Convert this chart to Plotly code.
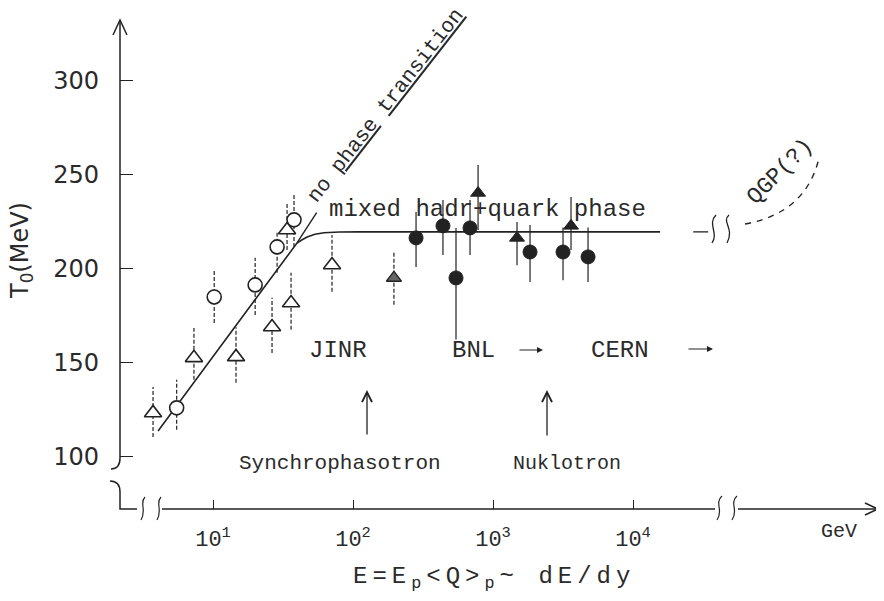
import plotly.graph_objects as go

# ---------------- data ----------------
# open circles
oc_E = [5.5, 10.2, 20.0, 28.7, 37.9]
oc_T = [126.1, 185.1, 191.5, 211.7, 226.1]
oc_hi = [141.0, 199.5, 205.9, 219.7, 240.4]
oc_lo = [114.4, 171.3, 175.5, 197.9, 211.7]
# open triangles
ot_E = [3.73, 7.31, 14.6, 26.4, 33.8, 36.1, 70.8]
ot_T = [123.4, 152.7, 153.2, 169.1, 220.7, 181.9, 202.1]
ot_hi = [137.2, 168.6, 169.0, 184.6, 235.0, 197.9, 218.0]
ot_lo = [110.6, 141.0, 139.4, 155.3, 210.0, 167.6, 187.8]
# half-filled triangle
ht_E = [196]
ht_T = [195.2]
ht_hi = [209.0]
ht_lo = [180.9]
# filled circles
fc_E = [282, 439, 544, 685, 1838, 3162, 4772]
fc_T = [216.5, 222.9, 195.2, 221.8, 209.0, 209.0, 206.4]
fc_hi = [230.3, 236.7, 221.8, 236.7, 223.4, 222.0, 222.0]
fc_lo = [201.0, 207.4, 162.5, 207.4, 193.0, 194.0, 193.0]
# filled triangles
ft_E = [782, 1484, 3606]
ft_T = [240.4, 216.5, 222.9]
ft_hi = [255.3, 225.0, 238.3]
ft_lo = [220.7, 202.0, 210.1]

# theoretical curve (mixed phase) and "no phase transition" continuation
curve_E = [4.05, 39.8, 43.0, 47.0, 53.5, 62.0, 80.0, 112.0, 15600]
curve_T = [113.8, 213.8, 215.4, 217.0, 218.4, 219.2, 219.6, 219.7, 219.7]
nopt_E = [39.8, 55.0]
nopt_T = [213.8, 230.0]
tail_E = [26900, 34400]
tail_T = [219.7, 219.7]

x_tick_vals = [10, 100, 1000, 10000]
x_tick_text = ["10<sup>1</sup>", "10<sup>2</sup>", "10<sup>3</sup>", "10<sup>4</sup>"]
y_tick_vals = [100, 150, 200, 250, 300]
y_tick_text = ["100", "150", "200", "250", "300"]

# ---------------- figure ----------------
INK = "#222222"
MONO = "Liberation Mono"
SANS = "DejaVu Sans"

OFF = 8                       # default page (body) margin
L, TOP, W, H = 120, 20, 760, 489   # plot area in page pixels
FW, FH = 884 - OFF, 601 - OFF


def px(x, y):
    return (x - L) / W, (TOP + H - y) / H


def pth(*segs):
    out = []
    for seg in segs:
        cmd, nums = seg[0], seg[1:]
        pts = []
        for i in range(0, len(nums), 2):
            a, b = px(nums[i], nums[i + 1])
            pts.append(f"{a:.5f},{b:.5f}")
        out.append(cmd + " " + " ".join(pts))
    return " ".join(out)


def err_xy(E, lo, hi):
    xs, ys = [], []
    for e, a, b in zip(E, lo, hi):
        xs += [e, e, None]
        ys += [a, b, None]
    return xs, ys


fig = go.Figure()

for E, lo, hi, dash in [(oc_E, oc_lo, oc_hi, "4px,2px"), (ot_E, ot_lo, ot_hi, "4px,2px"),
                        (ht_E, ht_lo, ht_hi, "4px,2px"), (fc_E, fc_lo, fc_hi, "solid"),
                        (ft_E, ft_lo, ft_hi, "solid")]:
    xs, ys = err_xy(E, lo, hi)
    fig.add_trace(go.Scatter(x=xs, y=ys, mode="lines", line=dict(color=INK, width=1.2, dash=dash),
                             hoverinfo="skip", showlegend=False))

fig.add_trace(go.Scatter(x=curve_E, y=curve_T, mode="lines", line=dict(color=INK, width=1.6),
                         showlegend=False))
fig.add_trace(go.Scatter(x=nopt_E, y=nopt_T, mode="lines", line=dict(color=INK, width=1.4),
                         showlegend=False))
fig.add_trace(go.Scatter(x=tail_E, y=tail_T, mode="lines", line=dict(color=INK, width=1.3),
                         showlegend=False))

fig.add_trace(go.Scatter(x=oc_E, y=oc_T, mode="markers",
                         marker=dict(symbol="circle", size=14, color="white", line=dict(color=INK, width=1.6)),
                         showlegend=False))
fig.add_trace(go.Scatter(x=ot_E, y=ot_T, mode="markers",
                         marker=dict(symbol="triangle-up", size=15, color="white", line=dict(color=INK, width=1.6)),
                         showlegend=False))
fig.add_trace(go.Scatter(x=ht_E, y=ht_T, mode="markers",
                         marker=dict(symbol="triangle-up", size=13, color="#666666", line=dict(color=INK, width=1.4)),
                         showlegend=False))
fig.add_trace(go.Scatter(x=fc_E, y=fc_T, mode="markers",
                         marker=dict(symbol="circle", size=14, color=INK, line=dict(color=INK, width=1)),
                         showlegend=False))
fig.add_trace(go.Scatter(x=ft_E, y=ft_T, mode="markers",
                         marker=dict(symbol="triangle-up", size=13, color=INK, line=dict(color=INK, width=1)),
                         showlegend=False))

# ---------------- axis decorations (lines, breaks, arrow heads) ----------------
shapes = []


def add_path(p, dash="solid", width=1.5):
    shapes.append(dict(type="path", xref="paper", yref="paper", path=p,
                       line=dict(color=INK, width=width, dash=dash), fillcolor="rgba(0,0,0,0)"))


# y axis with break
add_path(pth(("M", 120, 22), ("L", 120, 458), ("C", 120, 466, 117, 469, 111, 469)))
add_path(pth(("M", 110, 481), ("C", 116, 481, 120, 484, 120, 492), ("L", 120, 509), ("L", 137, 509)))
# x axis with breaks
add_path(pth(("M", 145, 497), ("C", 139, 503, 147, 510, 141, 520)), width=1.2)
add_path(pth(("M", 161, 497), ("C", 155, 503, 163, 510, 157, 520)), width=1.2)
add_path(pth(("M", 162, 509), ("L", 715, 509)))
add_path(pth(("M", 722, 496), ("C", 714, 503, 724, 511, 717, 520)), width=1.2)
add_path(pth(("M", 737, 496), ("C", 729, 503, 739, 511, 732, 520)), width=1.2)
add_path(pth(("M", 738, 509), ("L", 877, 509)))
# arrow heads
add_path(pth(("M", 865, 503), ("L", 878, 509), ("L", 865, 515)))
add_path(pth(("M", 113, 35), ("L", 120, 20), ("L", 127, 35)))
# QGP break squiggles and dashed arc
add_path(pth(("M", 716, 215), ("C", 707, 224, 719, 233, 712, 243)), width=1.3)
add_path(pth(("M", 729, 215), ("C", 721, 222, 735, 228, 727, 243)), width=1.3)
add_path(pth(("M", 745, 224), ("Q", 806, 213, 819, 158)), dash="6px,6px", width=1.4)

# ---------------- text ----------------
ann = []


def text(x, y, s, size, family=MONO, angle=0, xanchor="center", yanchor="middle"):
    a, b = px(x, y)
    ann.append(dict(x=a, y=b, xref="paper", yref="paper", text=s, showarrow=False,
                    textangle=angle, xanchor=xanchor, yanchor=yanchor,
                    font=dict(family=family, size=size, color="#2a2a2a")))


def arrow(x0, y0, x1, y1, head=5, size=1.4, width=1.3):
    a, b = px(x1, y1)
    ann.append(dict(x=a, y=b, xref="paper", yref="paper", text="", showarrow=True,
                    ax=x0 - x1, ay=y0 - y1, axref="pixel", ayref="pixel",
                    arrowhead=head, arrowsize=size, arrowwidth=width, arrowcolor=INK))


text(385, 106, "no <u>phase</u> <u>transition</u>", 21, angle=-52)
text(487, 209, "mixed hadr+quark phase", 24)
text(780, 172, "QGP(?)", 23, angle=-45)
text(338, 351, "JINR", 24)
text(473, 351, "BNL", 24)
text(620, 351, "CERN", 24)
text(340, 463, "Synchrophasotron", 21)
text(567, 463, "Nuklotron", 20)
text(839, 531, "GeV", 20)
text(21, 251, "T<sub>0</sub>(MeV)", 24, family=SANS, angle=-90)
text(494, 578,
     '<span style="letter-spacing:5px">E=E<sub>p</sub>&lt;Q&gt;<sub>p</sub>~ dE/dy</span>', 24)

arrow(518, 350, 543, 350, head=2, size=1.0, width=1.2)
arrow(687, 349, 713, 349, head=2, size=1.0, width=1.2)
arrow(367, 436, 367, 390, head=5, size=1.5, width=1.3)
arrow(547, 437, 547, 390, head=5, size=1.5, width=1.3)

fig.update_layout(
    width=FW, height=FH,
    margin=dict(l=L - OFF, r=FW - (L - OFF) - W, t=TOP - OFF, b=FH - (TOP - OFF) - H, autoexpand=False),
    paper_bgcolor="white", plot_bgcolor="white",
    shapes=shapes, annotations=ann, showlegend=False,
    xaxis=dict(type="log", range=[0.3357, 5.764], tickvals=x_tick_vals, ticktext=x_tick_text,
               ticks="inside", ticklen=9, tickwidth=1.3, tickcolor=INK,
               showline=False, showgrid=False, zeroline=False, ticklabelstandoff=14,
               tickfont=dict(family=MONO, size=22, color="#2a2a2a")),
    yaxis=dict(range=[72.3, 332.4], tickvals=y_tick_vals, ticktext=y_tick_text,
               ticks="inside", ticklen=13, tickwidth=1.3, tickcolor=INK,
               showline=False, showgrid=False, zeroline=False, ticklabelstandoff=20,
               tickfont=dict(family=SANS, size=24, color="#2a2a2a")),
)

fig.write_html("out.html")
